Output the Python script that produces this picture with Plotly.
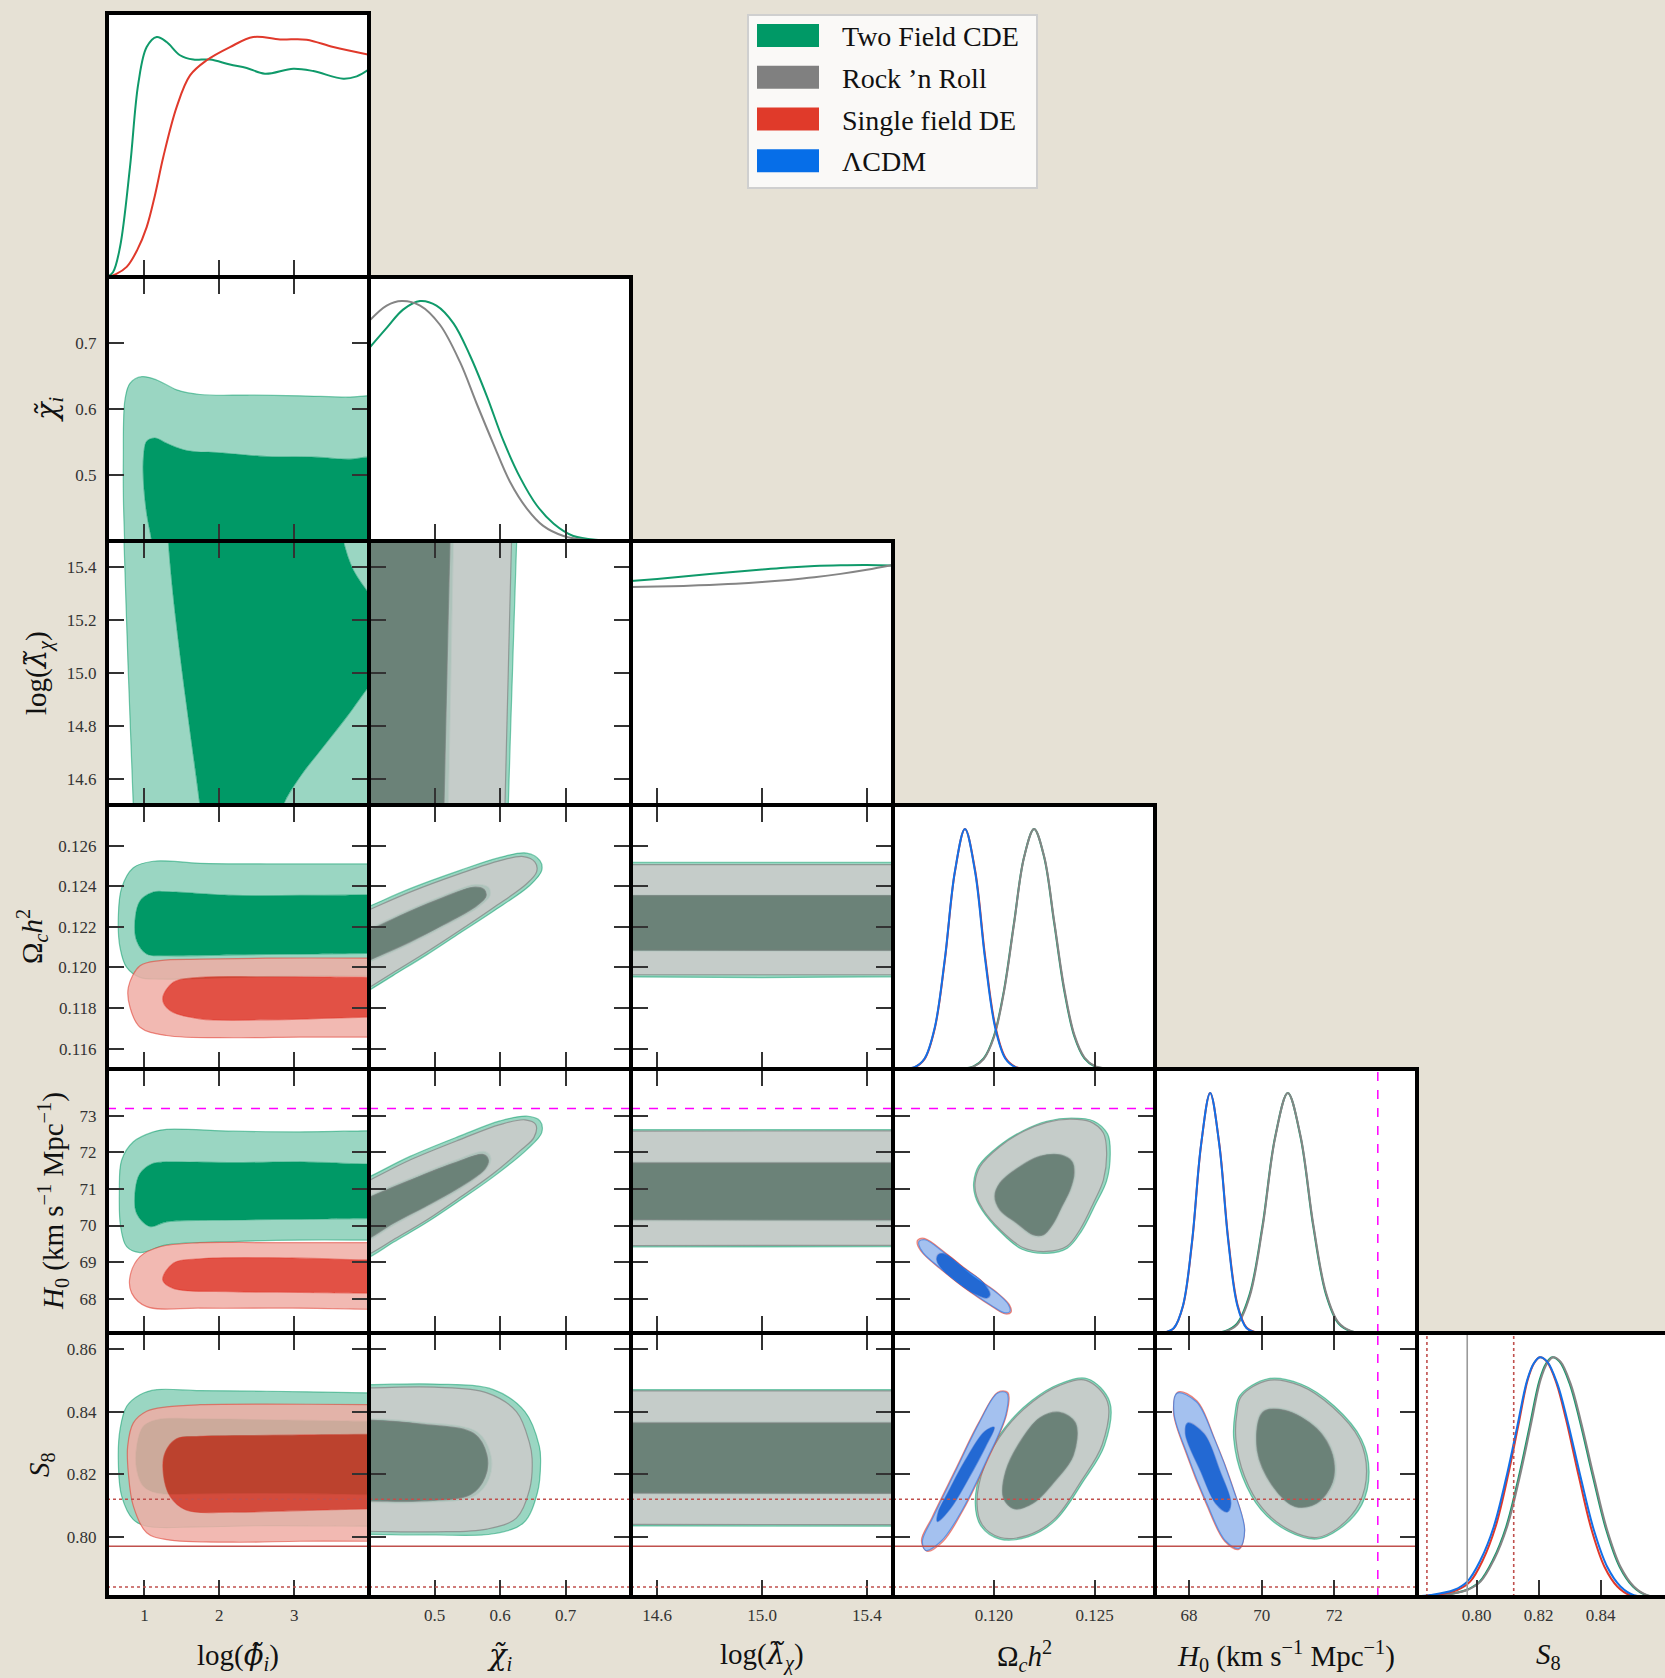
import plotly.graph_objects as go

# ---------------------------------------------------------------------------
# Page geometry (pixels): a 6x6 lower-triangle grid of panels
# ---------------------------------------------------------------------------
FIG_W, FIG_H = 1665, 1678
LEFT, TOP = 107, 13
CELL_W, CELL_H = 262, 264
N = 6
PLOT_W = FIG_W - LEFT
PLOT_H = N * CELL_H
BOTTOM = FIG_H - TOP - PLOT_H

FONT = "Liberation Serif, Times New Roman, serif"
BG = "#e6e1d5"


def px_x(px):
    return (px - LEFT) / PLOT_W


def px_y(py):
    return (TOP + PLOT_H - py) / PLOT_H


def tilde(ch):
    """Greek letter with a combining tilde, set in a font that positions the accent."""
    return '<span style="font-family:DejaVu Serif;font-style:italic">%s\u0303</span>' % ch


# ---------------------------------------------------------------------------
# Parameters
# ---------------------------------------------------------------------------
PARAM_TITLES = [
    "log(" + tilde("\u03d5") + "<sub><i>i</i></sub>)",
    tilde("\u03c7") + "<sub><i>i</i></sub>",
    "log(" + tilde("\u03bb") + "<sub><i>\u03c7</i></sub>)",
    "\u03a9<sub><i>c</i></sub><i>h</i><sup>2</sup>",
    "<i>H</i><sub>0</sub> (km s<sup>\u22121</sup> Mpc<sup>\u22121</sup>)",
    "<i>S</i><sub>8</sub>",
]
PARAM_RANGES = [[0.5, 4.0], [0.4, 0.8], [14.5, 15.5], [0.115, 0.128], [67.06, 74.28], [0.7808, 0.8651]]
S8_X_VIEW = [0.7808, 0.8608]

X_TICKS = [[1, 2, 3], [0.5, 0.6, 0.7], [14.6, 15.0, 15.4], [0.120, 0.125], [68, 70, 72], [0.80, 0.82, 0.84]]
X_TICKTEXT = [["1", "2", "3"], ["0.5", "0.6", "0.7"], ["14.6", "15.0", "15.4"], ["0.120", "0.125"],
              ["68", "70", "72"], ["0.80", "0.82", "0.84"]]
Y_TICKS = [[], [0.5, 0.6, 0.7], [14.6, 14.8, 15.0, 15.2, 15.4], [0.116, 0.118, 0.120, 0.122, 0.124, 0.126],
           [68, 69, 70, 71, 72, 73], [0.80, 0.82, 0.84, 0.86]]
Y_TICKTEXT = [[], ["0.5", "0.6", "0.7"], ["14.6", "14.8", "15.0", "15.2", "15.4"],
              ["0.116", "0.118", "0.120", "0.122", "0.124", "0.126"],
              ["68", "69", "70", "71", "72", "73"], ["0.80", "0.82", "0.84", "0.86"]]

# ---------------------------------------------------------------------------
# Chains
# ---------------------------------------------------------------------------
SERIES_NAMES = ["Two Field CDE", "Rock \u2019n Roll", "Single field DE", "\u039bCDM"]
LEGEND_COLORS = ["#009966", "#808080", "#e03a2a", "#066ee8"]
LINE_COLORS = {"cde": "#0f9a6a", "rnr": "#858585", "sfde": "#e0392b", "lcdm": "#1270e8"}
FILL_95 = {"cde": "rgb(154,214,194)", "rnr": "rgba(205,202,202,0.85)",
           "sfde": "rgba(240,173,165,0.85)", "lcdm": "rgba(150,194,249,0.85)"}
FILL_68 = {"cde": "rgb(0,153,102)", "rnr": "rgba(126,126,123,0.85)",
           "sfde": "rgba(221,50,36,0.85)", "lcdm": "rgba(1,109,236,0.85)"}
EDGE = {"cde": "rgba(0,153,102,0.5)", "rnr": "rgba(128,128,128,0.7)",
        "sfde": "rgba(224,57,43,0.55)", "lcdm": "rgba(18,112,232,0.55)"}

# External measurements
H0_LOCAL = 73.2
S8_WL = 0.797
S8_WL_LO = 0.784
S8_WL_HI = 0.812

# ---------------------------------------------------------------------------
# 1D marginals (normalised to peak 1)
# ---------------------------------------------------------------------------
CDE_PHI_1D_X = [0.5, 0.58, 0.674, 0.807, 0.918, 1.03, 1.164, 1.297, 1.475, 1.653, 1.876, 2.143, 2.366,
                2.61, 2.989, 3.256, 3.657, 3.836, 4.0]
CDE_PHI_1D_P = [0.0, 0.02, 0.125, 0.458, 0.806, 0.958, 1.0, 0.979, 0.924, 0.906, 0.906, 0.885, 0.871,
                0.847, 0.868, 0.858, 0.826, 0.836, 0.865]
SFDE_PHI_1D_X = [0.5, 0.62, 0.763, 0.9, 1.03, 1.14, 1.252, 1.43, 1.609, 1.832, 2.143, 2.454, 2.811, 3.167,
                 3.523, 4.0]
SFDE_PHI_1D_P = [0.0, 0.012, 0.042, 0.11, 0.208, 0.34, 0.5, 0.708, 0.84, 0.903, 0.958, 1.0, 0.99, 0.989,
                 0.958, 0.926]

CDE_CHI_1D_X = [0.4, 0.427, 0.452, 0.478, 0.503, 0.529, 0.554, 0.58, 0.605, 0.631, 0.656, 0.682, 0.712,
                0.753, 0.8]
CDE_CHI_1D_P = [0.803, 0.888, 0.964, 1.0, 0.981, 0.907, 0.774, 0.603, 0.419, 0.263, 0.149, 0.072, 0.021,
                0.004, 0.0]
RNR_CHI_1D_X = [0.4, 0.427, 0.45, 0.478, 0.508, 0.539, 0.564, 0.59, 0.615, 0.641, 0.666, 0.697, 0.732, 0.8]
RNR_CHI_1D_P = [0.916, 0.981, 1.0, 0.981, 0.902, 0.745, 0.575, 0.404, 0.248, 0.135, 0.063, 0.021, 0.004, 0.0]

CDE_LAM_1D_X = [14.5, 14.6, 14.7, 14.8, 14.9, 15.0, 15.1, 15.2, 15.3, 15.4, 15.5]
CDE_LAM_1D_P = [0.933, 0.942, 0.952, 0.962, 0.972, 0.981, 0.99, 0.996, 0.999, 1.0, 0.998]
RNR_LAM_1D_X = [14.5, 14.6, 14.7, 14.8, 14.9, 15.0, 15.1, 15.2, 15.3, 15.4, 15.5]
RNR_LAM_1D_P = [0.908, 0.91, 0.913, 0.917, 0.922, 0.929, 0.938, 0.949, 0.963, 0.98, 1.0]

CDE_OMC_1D_X = [0.115, 0.1185, 0.119, 0.1195, 0.12, 0.1205, 0.121, 0.1215, 0.122, 0.1225, 0.123, 0.1235,
                0.124, 0.1245, 0.125, 0.1255, 0.128]
CDE_OMC_1D_P = [0.0, 0.0022, 0.0111, 0.0439, 0.1353, 0.3247, 0.6065, 0.8825, 1.0, 0.8825, 0.6065, 0.3247,
                0.1353, 0.0439, 0.0111, 0.0022, 0.0]
RNR_OMC_1D_X = [0.115, 0.1185, 0.119, 0.1195, 0.12, 0.1205, 0.121, 0.1215, 0.122, 0.1225, 0.123, 0.1235,
                0.124, 0.1245, 0.125, 0.1255, 0.128]
RNR_OMC_1D_P = [0.0, 0.0018, 0.0098, 0.041, 0.13, 0.318, 0.60, 0.88, 1.0, 0.886, 0.615, 0.335, 0.142,
                0.048, 0.013, 0.003, 0.0]
SFDE_OMC_1D_X = [0.115, 0.11557, 0.11607, 0.11657, 0.11707, 0.11757, 0.11807, 0.11857, 0.11907, 0.11957,
                 0.12007, 0.12057, 0.12107, 0.12157, 0.128]
SFDE_OMC_1D_P = [0.0, 0.0008, 0.007, 0.042, 0.168, 0.452, 0.82, 1.0, 0.83, 0.47, 0.18, 0.048, 0.009, 0.001, 0.0]
LCDM_OMC_1D_X = [0.115, 0.11557, 0.11607, 0.11657, 0.11707, 0.11757, 0.11807, 0.11857, 0.11907, 0.11957,
                 0.12007, 0.12057, 0.12107, 0.12157, 0.128]
LCDM_OMC_1D_P = [0.0, 0.0009, 0.0076, 0.044, 0.172, 0.458, 0.823, 1.0, 0.823, 0.458, 0.172, 0.044, 0.0076,
                 0.0009, 0.0]

CDE_H0_1D_X = [67.06, 68.62, 68.97, 69.32, 69.67, 70.02, 70.37, 70.72, 71.07, 71.42, 71.77, 72.12, 72.47,
               72.82, 74.28]
CDE_H0_1D_P = [0.0, 0.0007, 0.0063, 0.039, 0.162, 0.445, 0.817, 1.0, 0.817, 0.445, 0.162, 0.039, 0.0063,
               0.0007, 0.0]
RNR_H0_1D_X = [67.06, 68.62, 68.97, 69.32, 69.67, 70.02, 70.37, 70.72, 71.07, 71.42, 71.77, 72.12, 72.47,
               72.82, 74.28]
RNR_H0_1D_P = [0.0, 0.0005, 0.005, 0.034, 0.152, 0.435, 0.812, 1.0, 0.822, 0.455, 0.17, 0.043, 0.0075,
               0.001, 0.0]
SFDE_H0_1D_X = [67.06, 67.33, 67.58, 67.83, 68.08, 68.33, 68.58, 68.83, 69.08, 69.33, 69.58, 69.83, 70.1, 74.28]
SFDE_H0_1D_P = [0.0, 0.0022, 0.02, 0.111, 0.376, 0.783, 1.0, 0.79, 0.39, 0.12, 0.023, 0.003, 0.0, 0.0]
LCDM_H0_1D_X = [67.06, 67.33, 67.58, 67.83, 68.08, 68.33, 68.58, 68.83, 69.08, 69.33, 69.58, 69.83, 70.1, 74.28]
LCDM_H0_1D_P = [0.0, 0.0024, 0.021, 0.114, 0.381, 0.786, 1.0, 0.786, 0.381, 0.114, 0.021, 0.0024, 0.0, 0.0]

CDE_S8_1D_X = [0.781, 0.78916, 0.7967, 0.80099, 0.80529, 0.8096, 0.81389, 0.81712, 0.82035, 0.8225, 0.82443,
               0.8268, 0.83002, 0.83325, 0.83755, 0.84185, 0.84615, 0.85045, 0.85475, 0.86]
CDE_S8_1D_P = [0.0, 0.008, 0.029, 0.064, 0.154, 0.294, 0.515, 0.71, 0.904, 0.974, 0.999, 0.981, 0.89,
               0.738, 0.501, 0.279, 0.126, 0.044, 0.008, 0.001]
RNR_S8_1D_X = [0.781, 0.78946, 0.797, 0.80129, 0.80559, 0.8099, 0.81419, 0.81742, 0.82065, 0.8228, 0.82473,
               0.8271, 0.83032, 0.83355, 0.83785, 0.84215, 0.84645, 0.85075, 0.85505, 0.86]
RNR_S8_1D_P = [0.0, 0.008, 0.029, 0.064, 0.154, 0.294, 0.515, 0.71, 0.904, 0.974, 0.999, 0.981, 0.89,
               0.738, 0.501, 0.279, 0.126, 0.044, 0.008, 0.001]
SFDE_S8_1D_X = [0.781, 0.78656, 0.79378, 0.79793, 0.80205, 0.80617, 0.81031, 0.81341, 0.8165, 0.81856,
                0.82042, 0.8227, 0.8258, 0.8289, 0.83302, 0.83714, 0.84127, 0.8454, 0.84953, 0.8584]
SFDE_S8_1D_P = [0.002, 0.008, 0.029, 0.064, 0.154, 0.294, 0.515, 0.71, 0.904, 0.974, 0.999, 0.981, 0.89,
                0.738, 0.501, 0.279, 0.126, 0.044, 0.008, 0.0]
LCDM_S8_1D_X = [0.781, 0.78516, 0.79268, 0.797, 0.80129, 0.80559, 0.8099, 0.81313, 0.81635, 0.81849, 0.82043,
                0.8228, 0.82603, 0.82926, 0.83355, 0.83785, 0.84215, 0.84645, 0.85075, 0.86]
LCDM_S8_1D_P = [0.003, 0.008, 0.029, 0.064, 0.154, 0.294, 0.515, 0.71, 0.904, 0.974, 0.999, 0.981, 0.89,
                0.738, 0.501, 0.279, 0.126, 0.044, 0.008, 0.0]

# ---------------------------------------------------------------------------
# 2D credible regions: 95% (outer) and 68% (inner) outlines, [x, y] pairs.
# Outer and inner outlines of one chain run in the same direction so that the
# outer one can be filled as a ring around the inner one.
# ---------------------------------------------------------------------------
# log(phi) - chi
CDE_PHI_CHI_95 = [[0.75, 0.34], [0.74, 0.37], [0.735, 0.40], [0.72, 0.46], [0.718, 0.523], [0.74, 0.614],
                  [0.807, 0.639], [0.963, 0.649], [1.164, 0.644], [1.43, 0.629], [1.742, 0.622], [2.41, 0.621],
                  [3.078, 0.62], [3.746, 0.618], [3.97, 0.620], [4.15, 0.620], [4.3, 0.62], [4.3, 0.34]]
CDE_PHI_CHI_68 = [[1.14, 0.34], [1.12, 0.37], [1.097, 0.40], [1.03, 0.442], [0.985, 0.497], [0.99, 0.53],
                  [1.03, 0.551], [1.141, 0.556], [1.297, 0.548], [1.564, 0.537], [1.965, 0.534], [2.633, 0.528],
                  [3.301, 0.527], [3.746, 0.524], [3.97, 0.527], [4.15, 0.527], [4.3, 0.527], [4.3, 0.34]]

# log(phi) - log(lambda)
CDE_PHI_LAM_95 = [[4.3, 15.7], [0.70, 15.7], [0.715, 15.6], [0.727, 15.5], [0.785, 15.0], [0.851, 14.5],
                  [0.86, 14.4], [0.87, 14.3], [4.3, 14.3]]
CDE_PHI_LAM_68 = [[1.28, 15.7], [1.30, 15.6], [1.319, 15.5], [1.386, 15.289], [1.519, 14.973], [1.742, 14.5],
                  [1.78, 14.4], [1.8, 14.3], [2.7, 14.3], [2.78, 14.4], [2.855, 14.5], [3.078, 14.607],
                  [3.389, 14.721], [3.702, 14.834], [4.0, 14.95], [4.15, 15.0], [4.3, 15.05], [4.3, 15.17],
                  [4.15, 15.24], [4.0, 15.30], [3.79, 15.39], [3.657, 15.5], [3.6, 15.6], [3.55, 15.7]]

# log(phi) - Omega_c h^2
CDE_PHI_OMC_95 = [[4.3, 0.1251], [4.15, 0.1251], [3.968, 0.1251], [2.633, 0.1251], [1.742, 0.12513],
                  [1.119, 0.12523], [0.852, 0.12491], [0.696, 0.12392], [0.651, 0.12245], [0.674, 0.12098],
                  [0.763, 0.12000], [0.941, 0.11951], [1.208, 0.11943], [2.187, 0.11951], [3.078, 0.11959],
                  [3.968, 0.11959], [4.15, 0.11959], [4.3, 0.11959]]
CDE_PHI_OMC_68 = [[4.3, 0.12357], [4.15, 0.12357], [3.968, 0.12357], [3.078, 0.12355], [2.187, 0.12355],
                  [1.297, 0.12373], [1.119, 0.12371], [0.941, 0.12327], [0.874, 0.12229], [0.897, 0.12131],
                  [1.03, 0.12066], [1.297, 0.12058], [2.187, 0.12062], [3.078, 0.12066], [3.968, 0.12069],
                  [4.15, 0.12069], [4.3, 0.12069]]
SFDE_PHI_OMC_95 = [[4.3, 0.12046], [4.15, 0.12046], [3.968, 0.12046], [2.633, 0.12046], [1.742, 0.12041],
                   [1.208, 0.12034], [0.941, 0.12008], [0.785, 0.11902], [0.807, 0.11804], [0.941, 0.11706],
                   [1.297, 0.11665], [2.187, 0.11654], [3.078, 0.11657], [3.968, 0.11657], [4.15, 0.11657],
                   [4.3, 0.11657]]
SFDE_PHI_OMC_68 = [[4.3, 0.11951], [4.15, 0.11951], [3.968, 0.11951], [2.633, 0.11954], [1.742, 0.11951],
                   [1.386, 0.11927], [1.244, 0.11845], [1.342, 0.11788], [1.742, 0.11747], [2.633, 0.11742],
                   [3.968, 0.11755], [4.15, 0.11755], [4.3, 0.11755]]

# log(phi) - H0
CDE_PHI_H0_95 = [[4.3, 72.59], [4.15, 72.59], [3.968, 72.59], [3.078, 72.56], [2.187, 72.58], [1.297, 72.63],
                 [1.119, 72.56], [0.852, 72.29], [0.696, 71.79], [0.665, 70.88], [0.682, 69.97], [0.763, 69.42],
                 [0.941, 69.26], [1.297, 69.47], [2.187, 69.56], [3.078, 69.60], [3.968, 69.60], [4.15, 69.60],
                 [4.3, 69.60]]
CDE_PHI_H0_68 = [[4.3, 71.68], [4.15, 71.68], [3.968, 71.68], [3.078, 71.74], [2.187, 71.72], [1.297, 71.74],
                 [1.119, 71.70], [0.941, 71.42], [0.874, 70.88], [0.897, 70.33], [1.075, 69.97], [1.297, 70.10],
                 [2.187, 70.15], [3.078, 70.17], [3.968, 70.19], [4.15, 70.19], [4.3, 70.19]]
SFDE_PHI_H0_95 = [[4.3, 69.53], [4.15, 69.53], [3.968, 69.53], [2.633, 69.53], [1.742, 69.53], [1.208, 69.42],
                  [0.941, 69.15], [0.807, 68.60], [0.830, 68.15], [1.030, 67.78], [1.742, 67.74], [3.078, 67.74],
                  [3.968, 67.71], [4.15, 67.71], [4.3, 67.71]]
SFDE_PHI_H0_68 = [[4.3, 69.06], [4.15, 69.06], [3.968, 69.06], [2.633, 69.12], [1.742, 69.09], [1.386, 68.97],
                  [1.244, 68.51], [1.386, 68.28], [2.187, 68.19], [3.078, 68.17], [3.968, 68.15], [4.15, 68.15],
                  [4.3, 68.15]]

# log(phi) - S8
CDE_PHI_S8_95 = [[4.3, 0.8460], [4.15, 0.8460], [3.968, 0.8460], [2.633, 0.8465], [1.742, 0.8467],
                 [1.164, 0.8470], [0.941, 0.8454], [0.763, 0.8417], [0.674, 0.8343], [0.651, 0.8247],
                 [0.696, 0.8130], [0.852, 0.8055], [1.030, 0.8034], [1.742, 0.8032], [2.633, 0.8036],
                 [3.968, 0.8034], [4.15, 0.8034], [4.3, 0.8034]]
CDE_PHI_S8_68 = [[4.3, 0.8369], [4.15, 0.8369], [3.968, 0.8369], [2.633, 0.8374], [1.742, 0.8377],
                 [1.164, 0.8374], [0.985, 0.8353], [0.897, 0.8289], [0.897, 0.8215], [0.985, 0.8162],
                 [1.164, 0.8140], [1.742, 0.8138], [2.633, 0.8140], [3.968, 0.8135], [4.15, 0.8135],
                 [4.3, 0.8135]]
SFDE_PHI_S8_95 = [[4.3, 0.8422], [4.15, 0.8422], [3.968, 0.8422], [2.633, 0.8424], [1.742, 0.8422],
                  [1.297, 0.8415], [1.030, 0.8401], [0.852, 0.8364], [0.776, 0.8289], [0.785, 0.8204],
                  [0.852, 0.8098], [1.030, 0.8013], [1.297, 0.7991], [2.187, 0.7983], [3.078, 0.7986],
                  [3.968, 0.7986], [4.15, 0.7986], [4.3, 0.7986]]
SFDE_PHI_S8_68 = [[4.3, 0.8327], [4.15, 0.8327], [3.968, 0.8327], [2.633, 0.8324], [1.742, 0.8321],
                  [1.430, 0.8313], [1.275, 0.8268], [1.252, 0.8204], [1.342, 0.8130], [1.564, 0.8085],
                  [2.187, 0.8079], [3.078, 0.8084], [3.968, 0.8089], [4.15, 0.8089], [4.3, 0.8089]]

# chi - log(lambda)
CDE_CHI_LAM_95 = [[0.3, 15.7], [0.628, 15.7], [0.627, 15.6], [0.6255, 15.5], [0.619, 15.0], [0.6127, 14.5],
                  [0.612, 14.4], [0.611, 14.3], [0.3, 14.3]]
CDE_CHI_LAM_68 = [[0.3, 15.7], [0.531, 15.7], [0.530, 15.6], [0.5288, 15.5], [0.525, 15.0], [0.5211, 14.5],
                  [0.5205, 14.4], [0.52, 14.3], [0.3, 14.3]]
RNR_CHI_LAM_95 = [[0.3, 15.7], [0.6195, 15.7], [0.619, 15.6], [0.6176, 15.5], [0.6126, 15.0], [0.6076, 14.5],
                  [0.607, 14.4], [0.606, 14.3], [0.3, 14.3]]
RNR_CHI_LAM_68 = [[0.3, 15.7], [0.526, 15.7], [0.525, 15.6], [0.5237, 15.5], [0.519, 15.0], [0.5145, 14.5],
                  [0.514, 14.4], [0.513, 14.3], [0.3, 14.3]]

# chi - Omega_c h^2
CDE_CHI_OMC_95 = [[0.3, 0.1216], [0.35, 0.1223], [0.4005, 0.12301], [0.4626, 0.12388], [0.5389, 0.12478],
                  [0.6, 0.12542], [0.6407, 0.12563], [0.661, 0.12526], [0.6637, 0.12478], [0.6458, 0.12405],
                  [0.5898, 0.12277], [0.5389, 0.12170], [0.488, 0.12062], [0.4371, 0.11961], [0.4005, 0.11888],
                  [0.35, 0.1179], [0.3, 0.1169]]
CDE_CHI_OMC_68 = [[0.3, 0.1205], [0.35, 0.1212], [0.4005, 0.12193], [0.4626, 0.12287], [0.5134, 0.12354],
                  [0.5618, 0.12408], [0.5822, 0.12395], [0.5847, 0.12354], [0.5669, 0.12297], [0.5134, 0.12200],
                  [0.4626, 0.12116], [0.4005, 0.12025], [0.35, 0.1195], [0.3, 0.1187]]
RNR_CHI_OMC_95 = [[0.3, 0.1214], [0.35, 0.1221], [0.4005, 0.12284], [0.4626, 0.12371], [0.5389, 0.12462],
                  [0.6, 0.12526], [0.6356, 0.12546], [0.6534, 0.12519], [0.656, 0.12472], [0.6407, 0.12412],
                  [0.5898, 0.12294], [0.5389, 0.12183], [0.488, 0.12076], [0.4371, 0.11975], [0.4005, 0.11901],
                  [0.35, 0.1180], [0.3, 0.1170]]
RNR_CHI_OMC_68 = [[0.3, 0.1204], [0.35, 0.1211], [0.4005, 0.12183], [0.4626, 0.12277], [0.5134, 0.12344],
                  [0.5592, 0.12395], [0.5756, 0.12384], [0.5786, 0.12351], [0.5644, 0.12304], [0.5134, 0.12210],
                  [0.4626, 0.12126], [0.4005, 0.12035], [0.35, 0.1196], [0.3, 0.1188]]

# chi - H0
CDE_CHI_H0_95 = [[0.3, 70.45], [0.35, 70.9], [0.4005, 71.33], [0.4626, 71.89], [0.5389, 72.45], [0.6, 72.86],
                 [0.6407, 72.99], [0.661, 72.86], [0.6637, 72.54], [0.6407, 72.07], [0.5898, 71.33],
                 [0.5389, 70.69], [0.488, 70.08], [0.4371, 69.54], [0.4005, 69.13], [0.35, 68.7], [0.3, 68.3]]
CDE_CHI_H0_68 = [[0.3, 70.0], [0.35, 70.4], [0.4005, 70.82], [0.4626, 71.29], [0.5288, 71.76], [0.5771, 72.02],
                 [0.5858, 71.85], [0.5797, 71.55], [0.5389, 70.99], [0.488, 70.49], [0.4371, 70.00],
                 [0.4005, 69.59], [0.35, 69.15], [0.3, 68.75]]
RNR_CHI_H0_95 = [[0.3, 70.35], [0.35, 70.8], [0.4005, 71.235], [0.4626, 71.79], [0.5389, 72.35], [0.6, 72.76],
                 [0.6382, 72.89], [0.6545, 72.76], [0.6519, 72.41], [0.6305, 72.04], [0.5898, 71.42],
                 [0.5389, 70.77], [0.488, 70.15], [0.4371, 69.61], [0.4005, 69.22], [0.35, 68.8], [0.3, 68.4]]
RNR_CHI_H0_68 = [[0.3, 69.95], [0.35, 70.35], [0.4005, 70.77], [0.4626, 71.235], [0.5288, 71.70],
                 [0.5746, 71.94], [0.5822, 71.79], [0.5771, 71.55], [0.5389, 71.05], [0.488, 70.54],
                 [0.4371, 70.06], [0.4005, 69.65], [0.35, 69.2], [0.3, 68.8]]

# chi - S8
CDE_CHI_S8_95 = [[0.3, 0.8485], [0.4, 0.8486], [0.5, 0.8488], [0.59, 0.847], [0.638, 0.840], [0.66, 0.829],
                 [0.662, 0.824], [0.657, 0.814], [0.636, 0.8045], [0.59, 0.801], [0.5, 0.8006], [0.4, 0.8008],
                 [0.3, 0.801]]
CDE_CHI_S8_68 = [[0.3, 0.8375], [0.4, 0.8378], [0.48, 0.8366], [0.565, 0.8335], [0.586, 0.826],
                 [0.583, 0.8185], [0.56, 0.813], [0.48, 0.811], [0.4, 0.811], [0.3, 0.811]]
RNR_CHI_S8_95 = [[0.3, 0.8475], [0.4, 0.8476], [0.5, 0.8478], [0.58, 0.846], [0.625, 0.840], [0.645, 0.830],
                 [0.649, 0.825], [0.645, 0.815], [0.625, 0.806], [0.58, 0.8025], [0.5, 0.8016], [0.4, 0.8018],
                 [0.3, 0.802]]
RNR_CHI_S8_68 = [[0.3, 0.837], [0.4, 0.8373], [0.48, 0.836], [0.56, 0.833], [0.58, 0.826], [0.577, 0.819],
                 [0.555, 0.8135], [0.48, 0.8115], [0.4, 0.8115], [0.3, 0.8115]]

# log(lambda) - Omega_c h^2 / H0 / S8 (flat in lambda): upper and lower edges
LAM_EDGE_X = [14.3, 14.5, 14.75, 15.0, 15.25, 15.5, 15.7]
CDE_LAM_OMC_TOP_95 = [0.12518, 0.12518, 0.12516, 0.12515, 0.12517, 0.12518, 0.12518]
CDE_LAM_OMC_BOT_95 = [0.11955, 0.11955, 0.11952, 0.11950, 0.11952, 0.11955, 0.11955]
CDE_LAM_OMC_TOP_68 = [0.12358, 0.12358, 0.12357, 0.12356, 0.12357, 0.12358, 0.12358]
CDE_LAM_OMC_BOT_68 = [0.12081, 0.12081, 0.12082, 0.12082, 0.12081, 0.12080, 0.12080]
RNR_LAM_OMC_TOP_95 = [0.12506, 0.12506, 0.12505, 0.12505, 0.12506, 0.12506, 0.12506]
RNR_LAM_OMC_BOT_95 = [0.11964, 0.11964, 0.11965, 0.11965, 0.11964, 0.11964, 0.11964]
RNR_LAM_OMC_TOP_68 = [0.12354, 0.12354, 0.12353, 0.12352, 0.12353, 0.12354, 0.12354]
RNR_LAM_OMC_BOT_68 = [0.12085, 0.12085, 0.12086, 0.12086, 0.12085, 0.12084, 0.12084]

CDE_LAM_H0_TOP_95 = [72.62, 72.62, 72.61, 72.60, 72.61, 72.62, 72.62]
CDE_LAM_H0_BOT_95 = [69.41, 69.41, 69.40, 69.40, 69.41, 69.42, 69.42]
CDE_LAM_H0_TOP_68 = [71.74, 71.74, 71.73, 71.73, 71.74, 71.74, 71.74]
CDE_LAM_H0_BOT_68 = [70.13, 70.13, 70.14, 70.14, 70.13, 70.12, 70.12]
RNR_LAM_H0_TOP_95 = [72.58, 72.58, 72.57, 72.57, 72.58, 72.59, 72.59]
RNR_LAM_H0_BOT_95 = [69.45, 69.45, 69.45, 69.44, 69.45, 69.46, 69.46]
RNR_LAM_H0_TOP_68 = [71.71, 71.71, 71.70, 71.70, 71.71, 71.71, 71.71]
RNR_LAM_H0_BOT_68 = [70.16, 70.16, 70.17, 70.17, 70.16, 70.15, 70.15]

CDE_LAM_S8_TOP_95 = [0.8470, 0.8470, 0.8469, 0.8468, 0.8469, 0.8470, 0.8470]
CDE_LAM_S8_BOT_95 = [0.8035, 0.8035, 0.8036, 0.8036, 0.8035, 0.8034, 0.8034]
CDE_LAM_S8_TOP_68 = [0.8368, 0.8368, 0.8367, 0.8367, 0.8368, 0.8368, 0.8368]
CDE_LAM_S8_BOT_68 = [0.8137, 0.8137, 0.8138, 0.8138, 0.8137, 0.8136, 0.8136]
RNR_LAM_S8_TOP_95 = [0.8466, 0.8466, 0.8465, 0.8465, 0.8466, 0.8466, 0.8466]
RNR_LAM_S8_BOT_95 = [0.8040, 0.8040, 0.8041, 0.8041, 0.8040, 0.8039, 0.8039]
RNR_LAM_S8_TOP_68 = [0.8364, 0.8364, 0.8363, 0.8363, 0.8364, 0.8364, 0.8364]
RNR_LAM_S8_BOT_68 = [0.8140, 0.8140, 0.8141, 0.8141, 0.8140, 0.8139, 0.8139]

# Omega_c h^2 - H0
CDE_OMC_H0_95 = [[0.11900, 71.16], [0.11925, 71.63], [0.12028, 72.19], [0.12147, 72.60], [0.12263, 72.85],
                 [0.12385, 72.94], [0.12495, 72.86], [0.12565, 72.50], [0.12578, 71.95], [0.12560, 71.22],
                 [0.12505, 70.58], [0.12435, 69.84], [0.12365, 69.38], [0.12263, 69.24], [0.12140, 69.35],
                 [0.12025, 69.87], [0.11942, 70.42], [0.11908, 70.80]]
CDE_OMC_H0_68 = [[0.12000, 70.80], [0.12027, 71.18], [0.12128, 71.64], [0.12229, 71.92], [0.12332, 71.96],
                 [0.12393, 71.77], [0.12405, 71.43], [0.12384, 70.96], [0.12342, 70.50], [0.12300, 70.04],
                 [0.12246, 69.71], [0.12193, 69.71], [0.12108, 70.05], [0.12025, 70.42]]
RNR_OMC_H0_95 = [[0.11907, 71.16], [0.11932, 71.61], [0.12031, 72.16], [0.12147, 72.57], [0.12263, 72.82],
                 [0.12378, 72.91], [0.12478, 72.84], [0.12544, 72.53], [0.1256, 71.98], [0.12544, 71.25],
                 [0.12494, 70.61], [0.12428, 69.89], [0.12362, 69.43], [0.12263, 69.29], [0.12147, 69.39],
                 [0.12031, 69.89], [0.11948, 70.43], [0.11915, 70.80]]
RNR_OMC_H0_68 = [[0.12006, 70.80], [0.12031, 71.16], [0.1213, 71.61], [0.12229, 71.89], [0.12329, 71.93],
                 [0.12387, 71.75], [0.12398, 71.43], [0.12378, 70.98], [0.12337, 70.52], [0.12296, 70.07],
                 [0.12246, 69.75], [0.12196, 69.75], [0.12114, 70.07], [0.12031, 70.43]]
SFDE_OMC_H0_95 = [[0.11622, 69.60], [0.11655, 69.65], [0.11766, 69.23], [0.11898, 68.63], [0.12016, 68.17],
                  [0.12078, 67.83], [0.12086, 67.63], [0.12058, 67.58], [0.11981, 67.82], [0.11849, 68.32],
                  [0.11731, 68.83], [0.11646, 69.25], [0.11620, 69.50]]
SFDE_OMC_H0_68 = [[0.11722, 69.22], [0.11750, 69.25], [0.11851, 68.85], [0.11950, 68.43], [0.11984, 68.10],
                  [0.11966, 68.00], [0.11913, 68.10], [0.11814, 68.47], [0.11730, 68.89], [0.11714, 69.08]]
LCDM_OMC_H0_95 = [[0.1163, 69.57], [0.11659, 69.61], [0.11766, 69.20], [0.11898, 68.61], [0.12014, 68.16],
                  [0.12072, 67.84], [0.1208, 67.65], [0.12056, 67.61], [0.11981, 67.84], [0.11849, 68.34],
                  [0.11733, 68.84], [0.1165, 69.25], [0.11628, 69.48]]
LCDM_OMC_H0_68 = [[0.11725, 69.20], [0.1175, 69.23], [0.11849, 68.84], [0.11948, 68.43], [0.11981, 68.11],
                  [0.11965, 68.02], [0.11915, 68.11], [0.11816, 68.47], [0.11733, 68.88], [0.11717, 69.07]]

# Omega_c h^2 - S8
CDE_OMC_S8_95 = [[0.12465, 0.8505], [0.12575, 0.8432], [0.12550, 0.8293], [0.1244, 0.8173], [0.12305, 0.8052],
                 [0.1217, 0.8000], [0.1203, 0.7993], [0.11935, 0.8036], [0.11908, 0.8107], [0.11946, 0.8228],
                 [0.12055, 0.8349], [0.1219, 0.8436], [0.12325, 0.8488]]
CDE_OMC_S8_68 = [[0.12328, 0.8401], [0.12410, 0.8366], [0.12400, 0.8259], [0.12304, 0.8173], [0.12196, 0.8104],
                 [0.12100, 0.8087], [0.12044, 0.8123], [0.12055, 0.8210], [0.12136, 0.8315], [0.1223, 0.8384]]
RNR_OMC_S8_95 = [[0.12458, 0.84998], [0.12564, 0.84315], [0.12538, 0.82949], [0.12431, 0.81755],
                 [0.12299, 0.80558], [0.12166, 0.80047], [0.12033, 0.7998], [0.11943, 0.80387],
                 [0.11917, 0.81072], [0.11954, 0.82268], [0.1206, 0.83462], [0.12193, 0.84315],
                 [0.12325, 0.84829]]
RNR_OMC_S8_68 = [[0.12325, 0.83973], [0.12405, 0.83632], [0.12394, 0.82607], [0.12299, 0.81755],
                 [0.12193, 0.81072], [0.12102, 0.80899], [0.12049, 0.81242], [0.1206, 0.82095],
                 [0.1214, 0.8312], [0.1223, 0.83803]]
SFDE_OMC_S8_95 = [[0.11668, 0.7954], [0.11748, 0.7985], [0.11852, 0.8090], [0.11968, 0.8244], [0.12064, 0.8391],
                  [0.12070, 0.8461], [0.12020, 0.8462], [0.11925, 0.8365], [0.11806, 0.8210], [0.11694, 0.8063],
                  [0.11641, 0.7988]]
SFDE_OMC_S8_68 = [[0.11722, 0.8048], [0.11786, 0.8091], [0.11876, 0.8187], [0.11961, 0.8289], [0.12004, 0.8351],
                  [0.11956, 0.8337], [0.11857, 0.8244], [0.11771, 0.8142], [0.11723, 0.8080]]
LCDM_OMC_S8_95 = [[0.11662, 0.79569], [0.11741, 0.79876], [0.11847, 0.80899], [0.11964, 0.82437],
                  [0.1206, 0.83906], [0.12065, 0.8459], [0.12018, 0.84589], [0.11927, 0.83632],
                  [0.1181, 0.82095], [0.11699, 0.80627], [0.11646, 0.79876]]
LCDM_OMC_S8_68 = [[0.1172, 0.8049], [0.11784, 0.80899], [0.11874, 0.81857], [0.11959, 0.82882],
                  [0.12002, 0.83498], [0.11954, 0.8336], [0.11858, 0.82437], [0.11773, 0.81413],
                  [0.11725, 0.80797]]

# H0 - S8
CDE_H0_S8_95 = [[69.40, 0.8452], [70.17, 0.8505], [71.08, 0.8488], [72.00, 0.8418], [72.75, 0.8312],
                [72.96, 0.8208], [72.76, 0.8103], [72.13, 0.8024], [71.51, 0.7993], [70.74, 0.8017],
                [69.98, 0.8087], [69.47, 0.8192], [69.23, 0.8312], [69.27, 0.8399]]
CDE_H0_S8_68 = [[70.00, 0.8401], [70.62, 0.8409], [71.54, 0.8350], [72.00, 0.8261], [72.00, 0.8173],
                [71.54, 0.8104], [70.92, 0.8093], [70.30, 0.8156], [69.84, 0.8278]]
RNR_H0_S8_95 = [[69.44, 0.84487], [70.18, 0.84998], [71.06, 0.84829], [71.95, 0.84145], [72.69, 0.8312],
                [72.89, 0.82095], [72.69, 0.81072], [72.10, 0.80287], [71.51, 0.7998], [70.77, 0.80216],
                [70.03, 0.80899], [69.53, 0.81925], [69.29, 0.8312], [69.32, 0.83973]]
RNR_H0_S8_68 = [[70.03, 0.83973], [70.62, 0.84042], [71.51, 0.83462], [71.95, 0.82607], [71.95, 0.81755],
                [71.51, 0.81072], [70.92, 0.8097], [70.33, 0.81584], [69.88, 0.82779]]
SFDE_H0_S8_95 = [[67.70, 0.8463], [68.22, 0.8434], [68.71, 0.8311], [69.21, 0.8157], [69.53, 0.8020],
                 [69.37, 0.7960], [68.98, 0.7986], [68.46, 0.8108], [67.93, 0.8263], [67.57, 0.8398]]
SFDE_H0_S8_68 = [[67.98, 0.8366], [68.43, 0.8331], [68.86, 0.8210], [69.15, 0.8106], [69.04, 0.8078],
                 [68.72, 0.8108], [68.31, 0.8210], [67.89, 0.8330]]
LCDM_H0_S8_95 = [[67.67, 0.8459], [68.20, 0.84315], [68.70, 0.83121], [69.20, 0.81584], [69.53, 0.80216],
                 [69.38, 0.79636], [69.00, 0.79876], [68.49, 0.81072], [67.96, 0.82607], [67.58, 0.83973]]
LCDM_H0_S8_68 = [[67.96, 0.83632], [68.41, 0.8329], [68.85, 0.82095], [69.15, 0.81072], [69.05, 0.80797],
                 [68.73, 0.81072], [68.32, 0.82095], [67.90, 0.8329]]


def band(xs, top, bottom):
    """Closed outline of a band that is flat along the x parameter."""
    return [[x, y] for x, y in zip(xs, top)] + [[x, y] for x, y in zip(xs[::-1], bottom[::-1])]


# panel (row, col) -> list of (chain, outer, inner, line shape)
TWO_D = {
    (1, 0): [("cde", CDE_PHI_CHI_95, CDE_PHI_CHI_68, "spline")],
    (2, 0): [("cde", CDE_PHI_LAM_95, CDE_PHI_LAM_68, "spline")],
    (3, 0): [("cde", CDE_PHI_OMC_95, CDE_PHI_OMC_68, "spline"),
             ("sfde", SFDE_PHI_OMC_95, SFDE_PHI_OMC_68, "spline")],
    (4, 0): [("cde", CDE_PHI_H0_95, CDE_PHI_H0_68, "spline"),
             ("sfde", SFDE_PHI_H0_95, SFDE_PHI_H0_68, "spline")],
    (5, 0): [("cde", CDE_PHI_S8_95, CDE_PHI_S8_68, "spline"),
             ("sfde", SFDE_PHI_S8_95, SFDE_PHI_S8_68, "spline")],
    (2, 1): [("cde", CDE_CHI_LAM_95, CDE_CHI_LAM_68, "spline"),
             ("rnr", RNR_CHI_LAM_95, RNR_CHI_LAM_68, "spline")],
    (3, 1): [("cde", CDE_CHI_OMC_95, CDE_CHI_OMC_68, "spline"),
             ("rnr", RNR_CHI_OMC_95, RNR_CHI_OMC_68, "spline")],
    (4, 1): [("cde", CDE_CHI_H0_95, CDE_CHI_H0_68, "spline"),
             ("rnr", RNR_CHI_H0_95, RNR_CHI_H0_68, "spline")],
    (5, 1): [("cde", CDE_CHI_S8_95, CDE_CHI_S8_68, "spline"),
             ("rnr", RNR_CHI_S8_95, RNR_CHI_S8_68, "spline")],
    (3, 2): [("cde", band(LAM_EDGE_X, CDE_LAM_OMC_TOP_95, CDE_LAM_OMC_BOT_95),
              band(LAM_EDGE_X, CDE_LAM_OMC_TOP_68, CDE_LAM_OMC_BOT_68), "linear"),
             ("rnr", band(LAM_EDGE_X, RNR_LAM_OMC_TOP_95, RNR_LAM_OMC_BOT_95),
              band(LAM_EDGE_X, RNR_LAM_OMC_TOP_68, RNR_LAM_OMC_BOT_68), "linear")],
    (4, 2): [("cde", band(LAM_EDGE_X, CDE_LAM_H0_TOP_95, CDE_LAM_H0_BOT_95),
              band(LAM_EDGE_X, CDE_LAM_H0_TOP_68, CDE_LAM_H0_BOT_68), "linear"),
             ("rnr", band(LAM_EDGE_X, RNR_LAM_H0_TOP_95, RNR_LAM_H0_BOT_95),
              band(LAM_EDGE_X, RNR_LAM_H0_TOP_68, RNR_LAM_H0_BOT_68), "linear")],
    (5, 2): [("cde", band(LAM_EDGE_X, CDE_LAM_S8_TOP_95, CDE_LAM_S8_BOT_95),
              band(LAM_EDGE_X, CDE_LAM_S8_TOP_68, CDE_LAM_S8_BOT_68), "linear"),
             ("rnr", band(LAM_EDGE_X, RNR_LAM_S8_TOP_95, RNR_LAM_S8_BOT_95),
              band(LAM_EDGE_X, RNR_LAM_S8_TOP_68, RNR_LAM_S8_BOT_68), "linear")],
    (4, 3): [("cde", CDE_OMC_H0_95, CDE_OMC_H0_68, "spline"),
             ("rnr", RNR_OMC_H0_95, RNR_OMC_H0_68, "spline"),
             ("sfde", SFDE_OMC_H0_95, SFDE_OMC_H0_68, "spline"),
             ("lcdm", LCDM_OMC_H0_95, LCDM_OMC_H0_68, "spline")],
    (5, 3): [("cde", CDE_OMC_S8_95, CDE_OMC_S8_68, "spline"),
             ("rnr", RNR_OMC_S8_95, RNR_OMC_S8_68, "spline"),
             ("sfde", SFDE_OMC_S8_95, SFDE_OMC_S8_68, "spline"),
             ("lcdm", LCDM_OMC_S8_95, LCDM_OMC_S8_68, "spline")],
    (5, 4): [("cde", CDE_H0_S8_95, CDE_H0_S8_68, "spline"),
             ("rnr", RNR_H0_S8_95, RNR_H0_S8_68, "spline"),
             ("sfde", SFDE_H0_S8_95, SFDE_H0_S8_68, "spline"),
             ("lcdm", LCDM_H0_S8_95, LCDM_H0_S8_68, "spline")],
}

ONE_D = {
    0: [("cde", CDE_PHI_1D_X, CDE_PHI_1D_P), ("sfde", SFDE_PHI_1D_X, SFDE_PHI_1D_P)],
    1: [("cde", CDE_CHI_1D_X, CDE_CHI_1D_P), ("rnr", RNR_CHI_1D_X, RNR_CHI_1D_P)],
    2: [("cde", CDE_LAM_1D_X, CDE_LAM_1D_P), ("rnr", RNR_LAM_1D_X, RNR_LAM_1D_P)],
    3: [("cde", CDE_OMC_1D_X, CDE_OMC_1D_P), ("rnr", RNR_OMC_1D_X, RNR_OMC_1D_P),
        ("sfde", SFDE_OMC_1D_X, SFDE_OMC_1D_P), ("lcdm", LCDM_OMC_1D_X, LCDM_OMC_1D_P)],
    4: [("cde", CDE_H0_1D_X, CDE_H0_1D_P), ("rnr", RNR_H0_1D_X, RNR_H0_1D_P),
        ("sfde", SFDE_H0_1D_X, SFDE_H0_1D_P), ("lcdm", LCDM_H0_1D_X, LCDM_H0_1D_P)],
    5: [("cde", CDE_S8_1D_X, CDE_S8_1D_P), ("rnr", RNR_S8_1D_X, RNR_S8_1D_P),
        ("sfde", SFDE_S8_1D_X, SFDE_S8_1D_P), ("lcdm", LCDM_S8_1D_X, LCDM_S8_1D_P)],
}

# ---------------------------------------------------------------------------
# Axes
# ---------------------------------------------------------------------------
TICK_FONT = dict(family=FONT, size=17, color="#333333")
TICK_STYLE = dict(ticks="inside", ticklen=17, tickwidth=1.6, tickcolor="#333333",
                  showline=True, linecolor="black", linewidth=1,
                  showgrid=False, zeroline=False, tickfont=TICK_FONT)

layout = dict(
    width=FIG_W, height=FIG_H,
    margin=dict(l=LEFT, r=0, t=TOP, b=BOTTOM, pad=0),
    paper_bgcolor=BG, plot_bgcolor="white",
    showlegend=False, hovermode=False,
)

axis_of = {}
k = 0
for r in range(N):
    for c in range(r + 1):
        k += 1
        axis_of[(r, c)] = k
        sfx = "" if k == 1 else str(k)
        x0 = px_x(LEFT + CELL_W * c)
        x1 = min(1.0, px_x(LEFT + CELL_W * (c + 1)))
        y0 = px_y(TOP + CELL_H * (r + 1))
        y1 = px_y(TOP + CELL_H * r)
        diag = r == c
        layout["xaxis" + sfx] = dict(
            domain=[x0, x1], range=S8_X_VIEW if c == N - 1 else PARAM_RANGES[c], anchor="y" + sfx,
            tickvals=X_TICKS[c], ticktext=X_TICKTEXT[c], mirror=True if diag else "ticks",
            showticklabels=(r == N - 1), ticklabelstandoff=3, **TICK_STYLE)
        if diag:
            layout["yaxis" + sfx] = dict(
                domain=[y0, y1], range=[0, 1.1], anchor="x" + sfx, showticklabels=False, ticks="",
                showline=True, linecolor="black", linewidth=1, mirror=(c < N - 1),
                showgrid=False, zeroline=False)
        else:
            layout["yaxis" + sfx] = dict(
                domain=[y0, y1], range=PARAM_RANGES[r], anchor="x" + sfx,
                tickvals=Y_TICKS[r], ticktext=Y_TICKTEXT[r], mirror="ticks",
                showticklabels=(c == 0), ticklabelstandoff=6, **TICK_STYLE)

fig = go.Figure()


def ax_names(r, c):
    n = axis_of[(r, c)]
    return ("x" if n == 1 else "x%d" % n), ("y" if n == 1 else "y%d" % n)


def closed(poly, i):
    return [p[i] for p in poly] + [poly[0][i]]


# filled credible regions: inner 68% region, then the 95% ring around it
for (r, c), entries in TWO_D.items():
    xa, ya = ax_names(r, c)
    for key, outer, inner, shape in entries:
        line = dict(color=EDGE[key], width=1.2, shape=shape, smoothing=1.0)
        fig.add_trace(go.Scatter(x=closed(inner, 0), y=closed(inner, 1), mode="lines", fill="toself",
                                 fillcolor=FILL_68[key], line=line, xaxis=xa, yaxis=ya, hoverinfo="skip"))
        fig.add_trace(go.Scatter(x=closed(outer, 0), y=closed(outer, 1), mode="lines", fill="tonext",
                                 fillcolor=FILL_95[key], line=line, xaxis=xa, yaxis=ya, hoverinfo="skip"))

# marginal densities
for c, entries in ONE_D.items():
    xa, ya = ax_names(c, c)
    for key, xs, ps in entries:
        fig.add_trace(go.Scatter(
            x=xs, y=ps, mode="lines",
            line=dict(color=LINE_COLORS[key], width=2, shape="spline", smoothing=1.0),
            xaxis=xa, yaxis=ya, hoverinfo="skip"))

# ---------------------------------------------------------------------------
# Reference lines, panel frames, legend and labels
# ---------------------------------------------------------------------------
shapes = []
S8_LINE = "#c0504d"
MAGENTA = "#ff00ff"

for c in range(N - 1):
    xa, ya = ax_names(N - 1, c)
    for val, dash in ((S8_WL_HI, "dot"), (S8_WL, "solid"), (S8_WL_LO, "dot")):
        shapes.append(dict(type="line", xref=xa + " domain", yref=ya, x0=0, x1=1, y0=val, y1=val,
                           line=dict(color=S8_LINE, width=1.6, dash=dash), layer="above"))
xa, ya = ax_names(N - 1, N - 1)
for val, dash, col in ((S8_WL_LO, "dot", S8_LINE), (S8_WL, "solid", "#9a9a9a"), (S8_WL_HI, "dot", S8_LINE)):
    shapes.append(dict(type="line", xref=xa, yref=ya + " domain", x0=val, x1=val, y0=0, y1=1,
                       line=dict(color=col, width=1.6, dash=dash), layer="above"))

for c in range(4):
    xa, ya = ax_names(4, c)
    shapes.append(dict(type="line", xref=xa + " domain", yref=ya, x0=0, x1=1, y0=H0_LOCAL, y1=H0_LOCAL,
                       line=dict(color=MAGENTA, width=1.5, dash="dash"), layer="above"))
for r in (4, 5):
    xa, ya = ax_names(r, 4)
    shapes.append(dict(type="line", xref=xa, yref=ya + " domain", x0=H0_LOCAL, x1=H0_LOCAL, y0=0, y1=1,
                       line=dict(color=MAGENTA, width=1.5, dash="dash"), layer="above"))

for r in range(N):
    for c in range(r + 1):
        shapes.append(dict(type="rect", xref="paper", yref="paper",
                           x0=px_x(LEFT + CELL_W * c),
                           x1=px_x(LEFT + CELL_W * (c + 1) + (8 if c == N - 1 else 0)),
                           y0=px_y(TOP + CELL_H * (r + 1)), y1=px_y(TOP + CELL_H * r),
                           line=dict(color="black", width=4), fillcolor="rgba(0,0,0,0)", layer="above"))

# legend box
shapes.append(dict(type="rect", xref="paper", yref="paper", x0=px_x(748), x1=px_x(1037),
                   y0=px_y(188), y1=px_y(15), line=dict(color="#cfcfcf", width=2),
                   fillcolor="#faf9f7", layer="above"))
annotations = []
LEGEND_ROWS = [35.5, 77.3, 119.0, 160.7]
for name, col, yc in zip(SERIES_NAMES, LEGEND_COLORS, LEGEND_ROWS):
    shapes.append(dict(type="rect", xref="paper", yref="paper", x0=px_x(757), x1=px_x(819),
                       y0=px_y(yc + 11.5), y1=px_y(yc - 11.5), line=dict(width=0), fillcolor=col,
                       layer="above"))
    annotations.append(dict(xref="paper", yref="paper", x=px_x(840), y=px_y(yc + 1), text=name,
                            showarrow=False, xanchor="left", yanchor="middle",
                            font=dict(family=FONT, size=28, color="#111111")))

# axis titles
TITLE_FONT = dict(family=FONT, size=29, color="#111111")
for c in range(N):
    xc = LEFT + CELL_W * c + CELL_W / 2
    annotations.append(dict(xref="paper", yref="paper", x=px_x(xc), y=px_y(1656), text=PARAM_TITLES[c],
                            showarrow=False, xanchor="center", yanchor="middle", font=TITLE_FONT))
Y_TITLE_X = [0, 48, 38, 32, 53, 41]
for r in range(1, N):
    yc = TOP + CELL_H * r + CELL_H / 2
    annotations.append(dict(xref="paper", yref="paper", x=px_x(Y_TITLE_X[r]), y=px_y(yc),
                            text=PARAM_TITLES[r], showarrow=False, textangle=-90,
                            xanchor="center", yanchor="middle", font=TITLE_FONT))

layout["shapes"] = shapes
layout["annotations"] = annotations
fig.update_layout(**layout)

fig.write_html("out.html")
